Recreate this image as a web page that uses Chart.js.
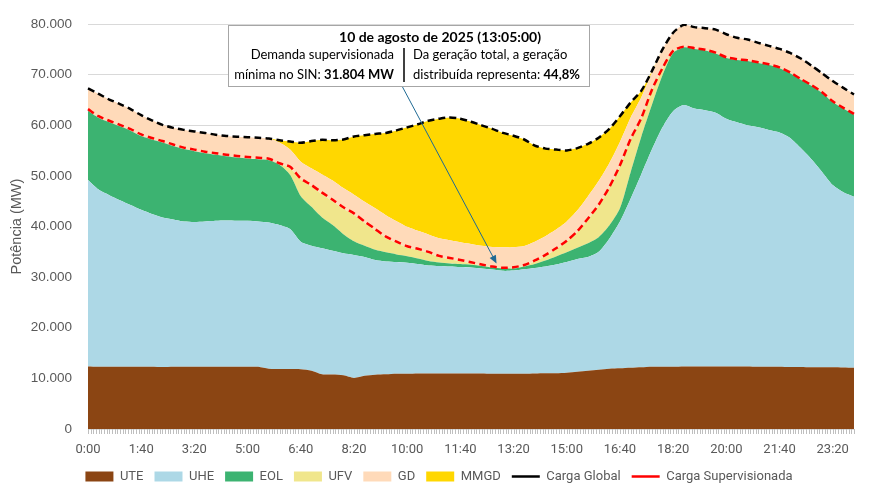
<!DOCTYPE html>
<html>
<head>
<meta charset="utf-8">
<script src="https://cdn.jsdelivr.net/npm/chart.js@4.4.1/dist/chart.umd.min.js"></script>
<style>
  html, body { margin: 0; padding: 0; background: #fff; }
  #wrap { width: 876px; height: 491px; }
</style>
</head>
<body>
<div id="wrap"><canvas id="loadChart"></canvas></div>
<script>
// horarios (passo de 20 min)
const times = ['0:00','0:20','0:40','1:00','1:20','1:40','2:00','2:20','2:40','3:00','3:20','3:40',
  '4:00','4:20','4:40','5:00','5:20','5:40','6:00','6:20','6:40','7:00','7:20','7:40',
  '8:00','8:20','8:40','9:00','9:20','9:40','10:00','10:20','10:40','11:00','11:20','11:40',
  '12:00','12:20','12:40','13:00','13:20','13:40','14:00','14:20','14:40','15:00','15:20','15:40',
  '16:00','16:20','16:40','17:00','17:20','17:40','18:00','18:20','18:40','19:00','19:20','19:40',
  '20:00','20:20','20:40','21:00','21:20','21:40','22:00','22:20','22:40','23:00','23:20','23:40','24:00'];
const tickLabels = ['0:00','1:40','3:20','5:00','6:40','8:20','10:00','11:40','13:20','15:00','16:40','18:20','20:00','21:40','23:20'];
const yTicks = [0, 10000, 20000, 30000, 40000, 50000, 60000, 70000, 80000];

// geracao por fonte (MW)
const ute = [12350,12300,12300,12300,12300,12300,12300,12250,12300,12300,12300,12300,12300,12300,12300,12300,12300,
  11900,11850,11850,11800,11500,10800,10750,10600,10100,10500,10700,10800,10900,
  10900,10950,10950,10950,10950,10950,10950,10950,10900,10900,10900,10900,
  10950,11000,11000,11100,11300,11500,11700,11900,12000,12100,12200,12300,12300,12300,
  12350,12350,12350,12350,12350,12350,12350,12300,12300,12300,12250,12250,12200,12200,12200,12150,12100];
const uhe = [36850,35000,33900,32900,31950,31000,30200,29550,29100,28700,
  28600,28700,28850,28900,28850,28850,28700,28900,28450,27650,
  25200,24700,24900,24450,24100,24300,23500,22700,22300,22100,
  21950,21650,21350,21250,21150,21050,20950,20750,20600,20350,
  20400,20650,20850,21100,21500,21900,22300,22500,23300,25700,
  29000,33400,38100,42900,47300,50500,51650,50950,50650,50150,
  48950,48250,47650,47300,46800,46300,45250,43250,41100,38600,
  36000,34650,33800];
const eol = [13700,14200,14400,14600,14700,14600,14700,14800,14500,14300,
  14000,13500,13050,12700,12500,12300,12300,12300,11900,10700,
  9000,7700,6100,5100,3800,2700,2200,2000,1800,1500,
  1300,1100,900,700,600,600,550,500,400,500,
  400,550,800,1200,1600,1900,2200,2700,2900,2600,
  2600,5200,7400,8800,10300,11500,11400,11800,11800,11700,
  12000,12300,12700,12700,12800,12700,12800,13500,14500,15600,
  16400,16500,16200];
const ufv = [0,0,0,0,0,0,0,0,0,0,0,0,0,0,0,0,0,0,
  100,1300,3300,4000,4600,4700,5000,5200,4500,3800,2850,2250,
  1700,1650,1550,1050,850,550,300,100,50,50,
  100,100,500,900,1400,2100,3100,4700,6200,7400,
  8300,6400,3500,2800,1200,200,
  0,0,0,0,0,0,0,0,0,0,0,0,0,0,0,0,0];
const gd = [4400,4700,4500,4400,4250,4100,3800,3500,3600,3800,3900,4000,3950,4000,4100,4200,4250,4300,
  4300,3700,3500,3600,3900,4100,4100,4000,4200,4400,4500,4300,
  4100,3800,3700,3750,3750,3750,3800,3900,4000,4100,
  4100,3950,3900,3900,3900,4000,4300,4600,4900,4900,
  4800,4400,4300,3600,
  3900,3800,4450,4300,4400,4700,4700,4400,4250,4000,3800,3800,4000,4200,4000,3900,4150,4100,4000];
const mmgd = [0,0,0,0,0,0,0,0,0,0,0,0,0,0,0,0,0,0,
  450,1600,3750,5400,6850,7950,9600,11500,13150,14700,16250,17950,
  19650,21050,22450,23600,24250,24400,24150,23800,23350,22600,
  22050,21050,19000,17300,15800,14050,12300,10350,8550,6800,
  5100,3000,1300,300,
  0,0,0,0,0,0,0,0,0,0,0,0,0,0,0,0,0,0,0];

// cargas
const cargaGlobal = [67300,66200,65100,64200,63200,62000,61000,60100,59500,59100,
  58800,58500,58150,57900,57750,57650,57550,57400,57050,56800,
  56550,56900,57150,57050,57200,57800,58050,58300,58500,59000,
  59600,60200,60900,61300,61550,61300,60700,60000,59300,58500,
  57950,57200,56000,55400,55200,55050,55500,56350,57550,59300,
  61800,64500,66800,70700,75000,78300,79850,79400,79200,78900,
  78000,77300,76950,76300,75700,75100,74300,73200,71800,70300,
  68750,67400,66100];
const cargaSup = [63200,61800,60900,60100,59250,58200,57500,56900,56200,55600,
  55200,54800,54500,54200,53950,53750,53600,53400,52500,51800,
  49500,48200,46700,45300,43800,42600,41000,39500,38000,37000,
  36100,35600,35000,34200,33800,33400,32950,32500,32100,31850,
  31950,32400,33300,34400,35700,37200,39100,41600,44300,47800,
  52100,57300,61400,67000,71300,74700,75550,75250,74950,74350,
  73450,73050,72850,72450,72050,71450,70450,69150,67950,66550,
  64750,63450,62250];

const grey = '#595959';
const narrow = "Roboto, sans-serif";

function fmt(v) {
  return String(v).replace(/\B(?=(\d{3})+(?!\d))/g, '.');
}

function area(label, data, color, edge, idx) {
  return {
    label: label,
    data: data,
    backgroundColor: color,
    borderColor: edge,
    borderWidth: 0,
    fill: idx === 0 ? 'origin' : '-1',
    pointRadius: 0,
    pointStyle: 'rect',
    tension: 0.25,
    stack: 'gen',
    order: 1
  };
}

function dashed(label, data, color, stack) {
  return {
    label: label,
    data: data,
    borderColor: color,
    backgroundColor: color,
    borderWidth: 2.5,
    borderDash: [7, 4],
    fill: false,
    pointRadius: 0,
    pointStyle: 'line',
    tension: 0.25,
    stack: stack,
    order: 0
  };
}

// marcas de 5 em 5 minutos no eixo x
const minorTicks = {
  id: 'minorTicks',
  afterDraw(chart) {
    const ctx = chart.ctx;
    const xs = chart.scales.x;
    const bottom = chart.chartArea.bottom;
    ctx.save();
    ctx.strokeStyle = '#BFBFBF';
    ctx.lineWidth = 1;
    ctx.beginPath();
    for (let k = 0; k <= (times.length - 1) * 4; k++) {
      const px = Math.round(xs.getPixelForValue(k / 4)) + 0.5;
      ctx.moveTo(px, bottom);
      ctx.lineTo(px, bottom + 5);
    }
    ctx.stroke();
    ctx.restore();
  }
};

// legenda centrada no grafico e nao na pagina
const legendShift = {
  id: 'legendShift',
  afterLayout(chart) {
    chart.legend.left += 12;
    chart.legend.right += 12;
    chart.legend.top += 2;
    chart.legend.bottom += 2;
  }
};

// caixa de texto e seta
const note = {
  id: 'note',
  afterDraw(chart) {
    const ctx = chart.ctx;
    const xs = chart.scales.x, ys = chart.scales.y;
    const bx = 228, by = 25, bw = 361, bh = 61;

    // seta
    const sx = 402, sy = by + bh;
    const tx = xs.getPixelForValue(38.4), ty = ys.getPixelForValue(32700);
    const ang = Math.atan2(ty - sy, tx - sx);
    ctx.save();
    ctx.strokeStyle = '#1F6A94';
    ctx.fillStyle = '#1F6A94';
    ctx.lineWidth = 1;
    ctx.beginPath();
    ctx.moveTo(sx, sy);
    ctx.lineTo(tx - 6 * Math.cos(ang), ty - 6 * Math.sin(ang));
    ctx.stroke();
    ctx.beginPath();
    ctx.moveTo(tx, ty);
    ctx.lineTo(tx - 8 * Math.cos(ang) + 3.5 * Math.sin(ang), ty - 8 * Math.sin(ang) - 3.5 * Math.cos(ang));
    ctx.lineTo(tx - 8 * Math.cos(ang) - 3.5 * Math.sin(ang), ty - 8 * Math.sin(ang) + 3.5 * Math.cos(ang));
    ctx.closePath();
    ctx.fill();

    // caixa
    ctx.fillStyle = '#fff';
    ctx.fillRect(bx, by, bw, bh);
    ctx.strokeStyle = '#A6A6A6';
    ctx.strokeRect(bx + 0.5, by + 0.5, bw, bh);

    ctx.fillStyle = '#000';
    ctx.textBaseline = 'middle';
    ctx.font = "bold 14px Lato, sans-serif";
    ctx.textAlign = 'center';
    ctx.fillText('10 de agosto de 2025 (13:05:00)', 440, 37);

    ctx.font = "13px Lato, sans-serif";
    ctx.textAlign = 'right';
    ctx.fillText('Demanda supervisionada', 394, 55);
    ctx.font = "bold 13px Lato, sans-serif";
    const boldL = '31.804 MW';
    ctx.fillText(boldL, 394, 75);
    const wL = ctx.measureText(boldL).width;
    ctx.font = "13px Lato, sans-serif";
    ctx.fillText('mínima no SIN: ', 394 - wL, 75);

    ctx.textAlign = 'left';
    ctx.fillText('Da geração total, a geração', 413, 55);
    const normR = 'distribuída representa: ';
    ctx.fillText(normR, 413, 75);
    const wR = ctx.measureText(normR).width;
    ctx.font = "bold 13px Lato, sans-serif";
    ctx.fillText('44,8%', 413 + wR, 75);

    ctx.strokeStyle = '#000';
    ctx.lineWidth = 1.5;
    ctx.beginPath();
    ctx.moveTo(404, 48);
    ctx.lineTo(404, 82);
    ctx.stroke();
    ctx.restore();
  }
};

const ctx = document.getElementById('loadChart').getContext('2d');

new Chart(ctx, {
  type: 'line',
  data: {
    labels: times,
    datasets: [
      area('UTE', ute, '#8B4513', '#7A3C10', 0),
      area('UHE', uhe, '#ADD8E6', '#8FB8CC', 1),
      area('EOL', eol, '#3CB371', '#35A063', 2),
      area('UFV', ufv, '#F0E68C', '#D9CF78', 3),
      area('GD', gd, '#FFDAB9', '#E8C4A4', 4),
      area('MMGD', mmgd, '#FFD700', '#E6C200', 5),
      dashed('Carga Global', cargaGlobal, '#000000', 'global'),
      dashed('Carga Supervisionada', cargaSup, '#FF0000', 'sup')
    ]
  },
  options: {
    responsive: true,
    maintainAspectRatio: false,
    animation: false,
    layout: { padding: { top: 15, right: 22, bottom: 0, left: 0 } },
    plugins: {
      tooltip: { enabled: false },
      legend: {
        position: 'bottom',
        labels: {
          usePointStyle: true,
          pointStyleWidth: 28,
          boxHeight: 10,
          padding: 11,
          color: grey,
          font: { family: narrow, size: 13 },
          sort: (a, b) => a.datasetIndex - b.datasetIndex
        }
      }
    },
    scales: {
      x: {
        offset: false,
        grid: { display: false, drawTicks: false },
        border: { display: false },
        ticks: {
          autoSkip: false,
          maxRotation: 0,
          padding: 13,
          color: grey,
          font: { family: narrow, size: 13 },
          callback: function (val, index) {
            const t = times[index];
            return tickLabels.includes(t) ? t : '';
          }
        },
        afterFit: function (scale) { scale.height = 28; }
      },
      y: {
        stacked: true,
        min: yTicks[0],
        max: yTicks[yTicks.length - 1],
        afterBuildTicks: function (scale) { scale.ticks = yTicks.map(v => ({ value: v })); },
        grid: { color: '#D9D9D9', drawTicks: false },
        border: { display: false },
        ticks: {
          padding: 16,
          color: grey,
          font: { family: "'Liberation Sans', Arial, sans-serif", size: 13.5 },
          callback: v => fmt(v)
        },
        title: {
          display: true,
          text: 'Potência (MW)',
          color: grey,
          padding: 8,
          font: { family: "'Liberation Sans', Arial, sans-serif", size: 14.5 }
        },
        afterFit: function (scale) { scale.width = 88; }
      }
    }
  },
  plugins: [minorTicks, legendShift, note]
});
</script>
</body>
</html>
